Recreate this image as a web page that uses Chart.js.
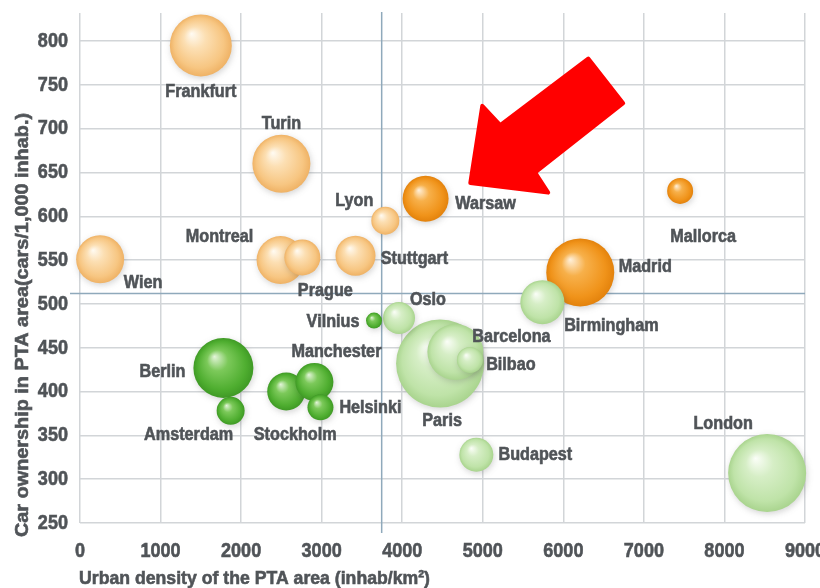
<!DOCTYPE html>
<html>
<head>
<meta charset="utf-8">
<title>Car ownership vs urban density</title>
<script src="https://cdn.jsdelivr.net/npm/chart.js@4/dist/chart.umd.min.js"></script>
<style>
    html, body { margin: 0; padding: 0; background: #fff; overflow: hidden; }
    #wrap { width: 820px; height: 588px; overflow: hidden; position: relative; }
    #wrap canvas { position: absolute; left: 0; top: 0; }
</style>
</head>
<body>
<div id="wrap"><canvas id="density-chart" width="850" height="588"></canvas></div>
<script>
// drawing order matters: later cities sit on top
const cities = ['Wien', 'Frankfurt', 'Turin', 'Montreal', 'Prague', 'Stuttgart', 'Lyon',
    'Warsaw', 'Mallorca', 'Madrid', 'Birmingham', 'Berlin', 'Amsterdam', 'Stockholm',
    'Manchester', 'Helsinki', 'Paris', 'Barcelona', 'Bilbao', 'Oslo', 'Vilnius',
    'Budapest', 'London'];
const density = [250, 1500, 2500, 2490, 2760, 3420, 3790,
    4290, 7450, 6210, 5740, 1780, 1870, 2560,
    2910, 2985, 4470, 4660, 4840, 3960, 3650,
    4920, 8530];
const carOwnership = [551, 795, 660, 550, 553, 555, 595,
    620, 629, 536, 502, 427, 378, 400,
    411, 382, 432, 445, 436, 484, 481,
    328, 307];
const bubbleSize = [24, 31, 29, 24, 18, 20, 14,
    23, 13, 34, 22, 30, 14, 19,
    19, 13, 44, 28, 13, 16, 8,
    17, 39];
const cityGroup = ['pale', 'pale', 'pale', 'pale', 'pale', 'pale', 'pale',
    'orange', 'orange', 'orange', 'lightGreen', 'green', 'green', 'green',
    'green', 'green', 'lightGreen', 'lightGreen', 'lightGreen', 'lightGreen', 'green',
    'lightGreen', 'lightGreen'];

const xTicks = [0, 1000, 2000, 3000, 4000, 5000, 6000, 7000, 8000, 9000];
const yTicks = [250, 300, 350, 400, 450, 500, 550, 600, 650, 700, 750, 800];
const avgDensity = 3745;
const avgOwnership = 512;

const xTitle = 'Urban density of the PTA area (inhab/km²)';
const yTitle = 'Car ownership in PTA area(cars/1,000 inhab.)';

// label placement relative to bubble centre (px)
const labelOffset = {
    Frankfurt: [0, 47], Turin: [0, -40], Wien: [43, 24], Montreal: [-61, -23],
    Prague: [23, 34], Stuttgart: [59, 3], Lyon: [-31, -20], Warsaw: [60, 5],
    Mallorca: [23, 46], Madrid: [65, -5], Birmingham: [69, 24], Oslo: [29, -18],
    Vilnius: [-41, 1], Paris: [2, 58], Barcelona: [56, -15], Bilbao: [41, 5],
    Budapest: [59, 0], London: [-44, -49], Berlin: [-61, 4], Amsterdam: [-42, 24],
    Stockholm: [9, 43], Manchester: [22, -30], Helsinki: [50, 1]
};

// arrow outline in data units
const arrowShape = [[4845, 638], [4994, 726], [5217, 704], [6309, 780],
    [6743, 729], [5651, 650], [5812, 627]];

const palette = {
    pale:       ['#fffbf3', '#fcdfb3', '#f7c682', '#efb265'],
    orange:     ['#fff1dc', '#f7b04a', '#f0931a', '#e3820c'],
    green:      ['#e4f5da', '#7cc95a', '#4fae30', '#3f9a25'],
    lightGreen: ['#fbfef8', '#d6eec6', '#bfe3a8', '#a9d48e']
};

const FONT = "'Liberation Sans', Arial, Helvetica, sans-serif";
const TEXT = '#505458';

// condensed bold text: regular bold face squeezed horizontally
function narrowText(ctx, text, x, y, size, align, squeeze, baseline) {
    ctx.save();
    ctx.translate(x, y);
    ctx.scale(squeeze, 1);
    ctx.font = 'bold ' + size + 'px ' + FONT;
    ctx.textAlign = align;
    ctx.textBaseline = baseline || 'middle';
    ctx.strokeStyle = ctx.fillStyle;
    ctx.lineWidth = 0.6;
    ctx.fillText(text, 0, 0);
    ctx.strokeText(text, 0, 0);
    ctx.restore();
}

function bubbleFill(ctx) {
    const chart = ctx.chart;
    const i = ctx.dataIndex;
    if (ctx.type !== 'data' || !chart.scales.x || !chart.scales.y) return '#cccccc';
    const c = palette[cityGroup[i]];
    const x = chart.scales.x.getPixelForValue(density[i]);
    const y = chart.scales.y.getPixelForValue(carOwnership[i]);
    const r = bubbleSize[i];
    if (!isFinite(x) || !isFinite(y)) return c[2];
    const g = chart.ctx.createRadialGradient(x - r * 0.3, y - r * 0.38, 0, x, y, r);
    g.addColorStop(0, c[0]);
    g.addColorStop(0.35, c[1]);
    g.addColorStop(0.8, c[2]);
    g.addColorStop(1, c[3]);
    return g;
}

const refLines = {
    id: 'refLines',
    beforeDatasetsDraw(chart) {
        const { ctx, chartArea, scales } = chart;
        const vx = scales.x.getPixelForValue(avgDensity);
        const hy = scales.y.getPixelForValue(avgOwnership);
        ctx.save();
        ctx.strokeStyle = '#8fa9bb';
        ctx.lineWidth = 1.5;
        ctx.beginPath();
        ctx.moveTo(vx, chartArea.top - 1);
        ctx.lineTo(vx, chartArea.bottom + 10);
        ctx.moveTo(chartArea.left - 10, hy);
        ctx.lineTo(chartArea.right, hy);
        ctx.stroke();
        ctx.restore();
        // soft shadow under the bubbles
        ctx.save();
        ctx.shadowColor = 'rgba(60,60,60,0.22)';
        ctx.shadowBlur = 6;
        ctx.shadowOffsetX = 1;
        ctx.shadowOffsetY = 2;
    },
    afterDatasetsDraw(chart) {
        chart.ctx.restore();
    }
};

const textLayer = {
    id: 'textLayer',
    afterDraw(chart) {
        const { ctx, scales, chartArea } = chart;
        ctx.save();
        ctx.fillStyle = TEXT;

        // tick labels, placed by the library's scales
        scales.y.ticks.forEach(t => {
            narrowText(ctx, String(t.value), chartArea.left - 12,
                scales.y.getPixelForValue(t.value), 21, 'right', 0.86);
        });
        scales.x.ticks.forEach(t => {
            narrowText(ctx, String(t.value), scales.x.getPixelForValue(t.value),
                chartArea.bottom + 34, 21, 'center', 0.86, 'alphabetic');
        });

        // city labels
        cities.forEach((name, i) => {
            const off = labelOffset[name];
            const x = scales.x.getPixelForValue(density[i]);
            const y = scales.y.getPixelForValue(carOwnership[i]);
            narrowText(ctx, name, x + off[0], y + off[1], 18, 'center', 0.9);
        });

        // axis titles, squeezed to the reference width
        ctx.font = 'bold 19px ' + FONT;
        const sx = 351 / ctx.measureText(xTitle).width;
        narrowText(ctx, xTitle, chartArea.left - 1, 584, 19, 'left', sx, 'alphabetic');
        ctx.font = 'bold 19px ' + FONT;
        const sy = 424 / ctx.measureText(yTitle).width;
        ctx.save();
        ctx.translate(28, 537);
        ctx.rotate(-Math.PI / 2);
        narrowText(ctx, yTitle, 0, 0, 19, 'left', sy, 'alphabetic');
        ctx.restore();

        // red arrow pointing at Warsaw
        ctx.fillStyle = '#ff0000';
        ctx.strokeStyle = '#ff0000';
        ctx.lineWidth = 4;
        ctx.lineJoin = 'round';
        ctx.beginPath();
        arrowShape.forEach(([vx, vy], k) => {
            const px = scales.x.getPixelForValue(vx);
            const py = scales.y.getPixelForValue(vy);
            if (k === 0) ctx.moveTo(px, py); else ctx.lineTo(px, py);
        });
        ctx.closePath();
        ctx.fill();
        ctx.stroke();
        ctx.restore();
    }
};

new Chart(document.getElementById('density-chart'), {
    type: 'bubble',
    data: {
        datasets: [{
            label: 'Cities',
            data: cities.map((c, i) => ({ x: density[i], y: carOwnership[i], r: bubbleSize[i] })),
            backgroundColor: bubbleFill,
            borderWidth: 0,
            clip: false
        }]
    },
    options: {
        responsive: false,
        animation: false,
        events: [],
        layout: { autoPadding: false, padding: { top: 13, right: 45, left: 0, bottom: 0 } },
        plugins: {
            legend: { display: false },
            tooltip: { enabled: false }
        },
        scales: {
            x: {
                type: 'linear',
                min: 0,
                max: 9000,
                afterBuildTicks: (scale) => { scale.ticks = xTicks.map(v => ({ value: v })); },
                afterFit: (scale) => { scale.height = 65; },
                grid: { color: '#d2d5d8', lineWidth: 1.5, drawTicks: false },
                border: { display: false },
                ticks: { display: false }
            },
            y: {
                type: 'linear',
                min: 250,
                max: 832,
                afterBuildTicks: (scale) => { scale.ticks = yTicks.map(v => ({ value: v })); },
                afterFit: (scale) => { scale.width = 80; },
                grid: { color: '#d2d5d8', lineWidth: 1.5, drawTicks: false },
                border: { display: false },
                ticks: { display: false }
            }
        }
    },
    plugins: [refLines, textLayer]
});
</script>
</body>
</html>
